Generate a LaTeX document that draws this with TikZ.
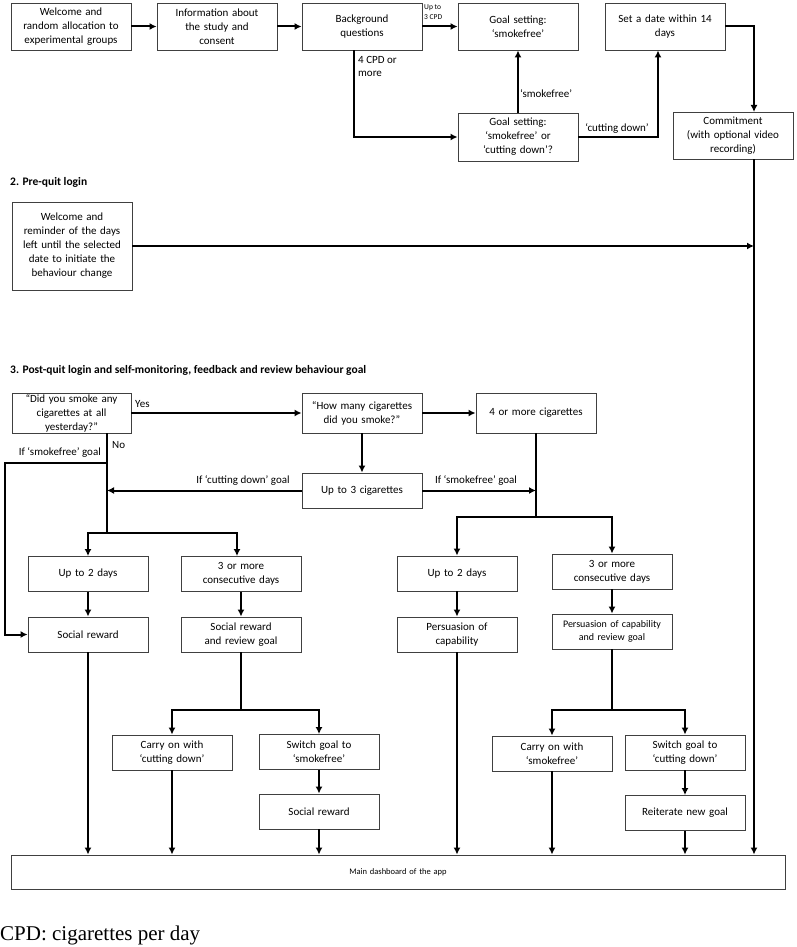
\documentclass[tikz,border=0pt]{standalone}
\usepackage{fontspec}
\setmainfont{Carlito}
\newfontfamily\notefont{Liberation Serif}
\usetikzlibrary{arrows.meta}

\begin{document}
\begin{tikzpicture}[x=1pt,y=-1pt]
  \tikzset{box/.style={draw=black!75,line width=0.9pt,minimum width=120pt,minimum height=35pt,
      text width=116pt,inner sep=2pt,align=center,font=\fontsize{11}{14}\selectfont},
    topbox/.style={box,minimum height=47pt},
    flow/.style={line width=2pt,-{Latex[length=7pt,width=7pt]}},
    link/.style={line width=2pt},
    tag/.style={inner sep=1pt,font=\fontsize{11}{13}\selectfont},
    heading/.style={anchor=west,inner sep=0pt,font=\bfseries\fontsize{11.5}{13}\selectfont}}
  \useasboundingbox (0,0) rectangle (796,947);

  \node[topbox] (wel) at (71,26.5) {Welcome and\\random allocation to\\experimental groups};
  \node[topbox] (info) at (217,26.5) {Information about\\the study and\\consent};
  \node[topbox] (bg) at (362,26.5) {Background\\questions};
  \node[topbox] (gs) at (518,26.5) {Goal setting:\\‘smokefree’};
  \node[topbox] (date) at (665,26.5) {Set a date within 14\\days};
  \node[box,minimum height=48pt] (gsq) at (518,137) {Goal setting:\\‘smokefree’ or\\‘cutting down’?};
  \node[topbox] (commit) at (733,135.5) {Commitment\\(with optional video\\recording)};
  \coordinate (cm) at (754,112);

  \node[heading] (h2) at (10,182) {2. Pre-quit login};
  \node[box,minimum height=88pt] (remind) at (72,246) {Welcome and\\reminder of the days\\left until the selected\\date to initiate the\\behaviour change};

  \node[heading] (h3) at (10,370) {3. Post-quit login and self-monitoring, feedback and review behaviour goal};
  \node[box,minimum width=119pt,minimum height=40pt,inner sep=0pt] (q1) at (71.5,413) {“Did you smoke any\\cigarettes at all\\yesterday?”};
  \node[box,minimum height=40pt] (q2) at (362,413) {“How many cigarettes\\did you smoke?”};
  \node[box,minimum height=40pt] (q3) at (536,413) {4 or more cigarettes};
  \node[box] (up3) at (362,490.5) {Up to 3 cigarettes};
  \coordinate (no) at (107,433);
  \coordinate (sf) at (107,463);
  \coordinate (lb) at (107,533);
  \coordinate (rb) at (536,517);

  \node[box] (l1) at (88,574) {Up to 2 days};
  \node[box] (l2) at (241,574) {3 or more\\consecutive days};
  \node[box] (r1) at (457,573.5) {Up to 2 days};
  \node[box] (r2) at (612,571.5) {3 or more\\consecutive days};
  \node[box] (l3) at (88,634.5) {Social reward};
  \node[box] (l4) at (241,634.5) {Social reward\\and review goal};
  \node[box] (r3) at (457,634.5) {Persuasion of\\capability};
  \node[box,font=\fontsize{10}{13}\selectfont] (r4) at (612,631.5) {Persuasion of capability\\and review goal};
  \coordinate (ls) at (241,710);
  \coordinate (rs) at (612,710);

  \node[box] (l5) at (172,752.5) {Carry on with\\‘cutting down’};
  \node[box] (l6) at (319,752) {Switch goal to\\‘smokefree’};
  \node[box] (l7) at (319,811.5) {Social reward};
  \node[box] (r5) at (552,753.5) {Carry on with\\‘smokefree’};
  \node[box] (r6) at (685,752.5) {Switch goal to\\‘cutting down’};
  \node[box] (r7) at (685,813) {Reiterate new goal};
  \node[box,minimum width=774pt,minimum height=34pt,text width=700pt,font=\fontsize{8.5}{10}\selectfont] (dash) at (398,872) {Main dashboard of the app};

  \node[anchor=base west,inner sep=0pt,font=\notefont\fontsize{21}{24}\selectfont] (note) at (0,940) {CPD: cigarettes per day};

  \draw[flow] (wel) -- (info);
  \draw[flow] (info) -- (bg);
  \draw[flow] (bg) -- (gs);
  \node[tag,anchor=north west,align=left,font=\fontsize{7.5}{10.5}\selectfont] at (423,3) {Up to\\3 CPD};
  \draw[flow] ([xshift=-8pt]bg.south) |- (gsq.west);
  \node[tag,anchor=north west,align=left] at (357,55) {4 CPD or\\more};
  \draw[flow] (gsq) -- (gs) node[tag,pos=0.3,anchor=west] {‘smokefree’};
  \draw[flow] (gsq.east) -| ([xshift=-7pt]date.south);
  \node[tag] at (617,128) {‘cutting down’};
  \draw[flow] (date.east) -| (cm);
  \draw[flow] (cm |- commit.south) -- (cm |- dash.north);
  \draw[flow] (remind.east) -- (remind.east -| cm);

  \draw[flow] (q1.east |- q2.west) -- (q2.west);
  \node[tag,anchor=west] at (134,404) {Yes};
  \draw[flow] (q2) -- (q3);
  \draw[flow] (q2) -- (up3);
  \draw[link] (no) -- (lb);
  \node[tag,anchor=west] at (111,445) {No};
  \draw[flow] (sf) -- ++(-102,0) |- (l3.west);
  \node[tag,anchor=east] at (102,452) {If ‘smokefree’ goal};
  \draw[flow] (up3.west) -- (up3.west -| no);
  \node[tag] at (243,480) {If ‘cutting down’ goal};
  \draw[flow] (up3.east) -- (up3.east -| rb);
  \node[tag] at (476,480) {If ‘smokefree’ goal};
  \draw[link] (q3) -- (rb);

  \draw[flow] (lb) -| (l1.north);
  \draw[flow] (lb) -| ([xshift=-4pt]l2.north);
  \draw[flow] (rb) -| (r1.north);
  \draw[flow] (rb) -| (r2.north);
  \draw[flow] (l1) -- (l3);
  \draw[flow] (l2) -- (l4);
  \draw[flow] (r1) -- (r3);
  \draw[flow] (r2) -- (r4);
  \draw[link] (l4) -- (ls);
  \draw[link] (r4) -- (rs);
  \draw[flow] (ls) -| (l5.north);
  \draw[flow] (ls) -| (l6.north);
  \draw[flow] (rs) -| (r5.north);
  \draw[flow] (rs) -| (r6.north);
  \draw[flow] (l6) -- (l7);
  \draw[flow] (r6) -- (r7);
  \foreach \n in {l3,l5,l7,r3,r5,r7}
    \draw[flow] (\n.south) -- (\n.south |- dash.north);
\end{tikzpicture}
\end{document}
